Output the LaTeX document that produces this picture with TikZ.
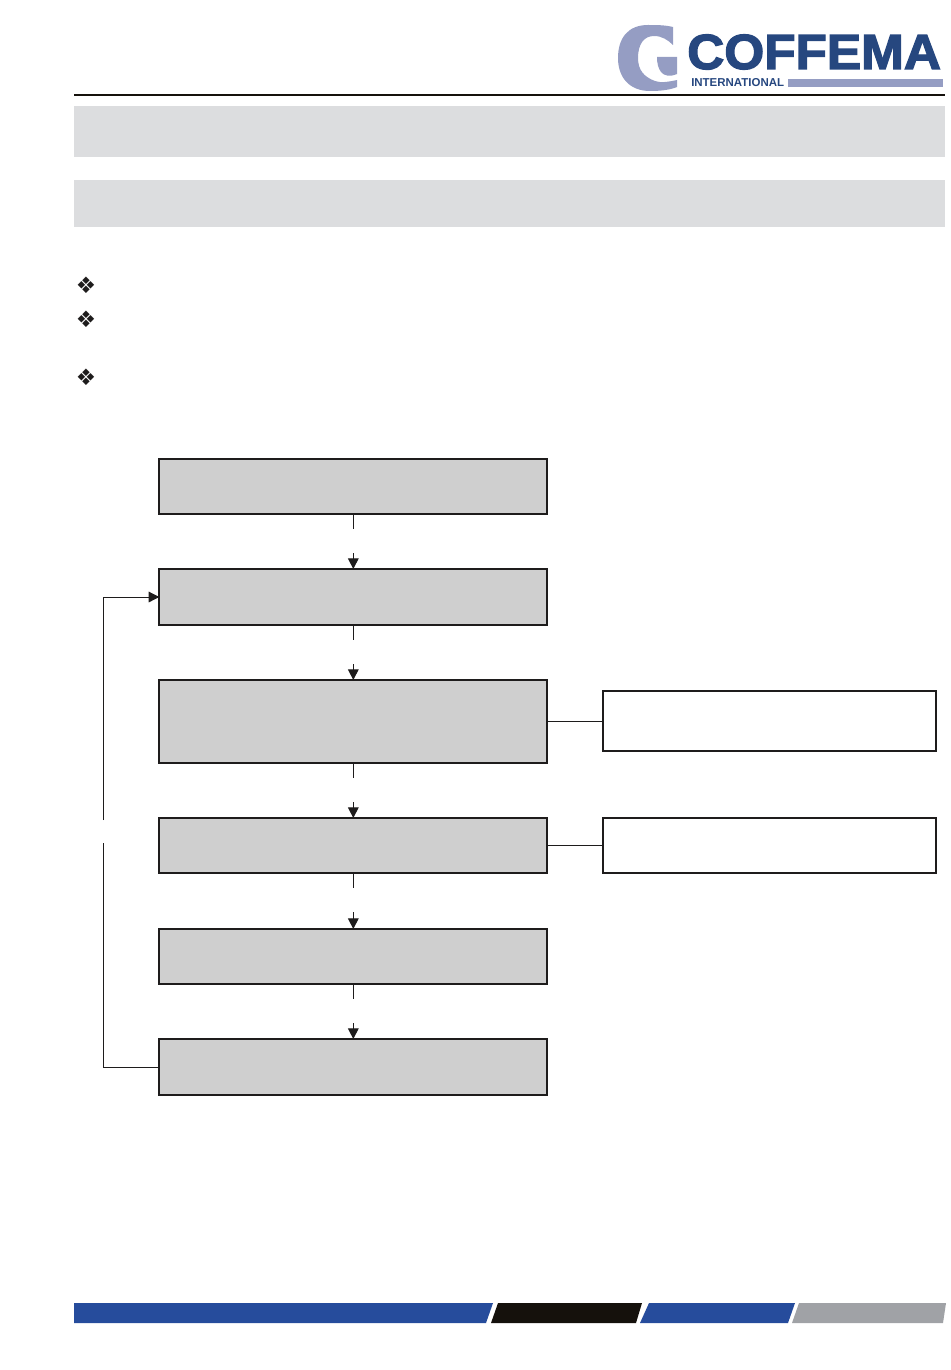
\documentclass[tikz,border=0pt]{standalone}
\usepackage{fontspec}
\setmainfont{Liberation Sans}
\newfontfamily\dejavu{DejaVu Sans}
\newfontfamily\logofont[BoldFeatures={FakeBold=2.6}]{Liberation Sans}
\usetikzlibrary{arrows.meta}
\definecolor{bandgrey}{HTML}{DCDDDF}
\definecolor{boxgrey}{HTML}{CFCFCF}
\definecolor{logoblue}{HTML}{26477F}
\definecolor{logolilac}{HTML}{959DC3}
\definecolor{barblue}{HTML}{264C9C}
\definecolor{barblack}{HTML}{15110C}
\definecolor{bargrey}{HTML}{A0A2A6}
\definecolor{inkblack}{HTML}{1E1C1C}
\tikzset{
  x=0.75pt, y=-0.75pt,
  stepbox/.style={draw=inkblack, line width=1.5pt, fill=boxgrey, minimum width=291pt, inner sep=0pt, outer sep=0pt},
  notebox/.style={draw=inkblack, line width=1.5pt, fill=white, minimum width=249.75pt, inner sep=0pt, outer sep=0pt},
  link/.style={draw=inkblack, line width=0.75pt},
  tiplink/.style={link, -{Triangle[length=8pt, width=8pt]}},
  bullet/.style={font=\dejavu\fontsize{17}{17}\selectfont, text=inkblack, inner sep=0pt}
}
\begin{document}
\begin{tikzpicture}
	\useasboundingbox (0, 0) rectangle (950, 1370);
	%%%%% HEADER %%%%%
	\fill[logolilac] (673, 27) .. controls (665, 25) and (656, 25) .. (648, 25)
		.. controls (628, 25) and (618, 38) .. (618, 58)
		.. controls (618, 78) and (630, 91) .. (650, 91)
		.. controls (660, 91) and (670, 90) .. (677, 87) -- (677, 80)
		.. controls (668, 82) and (660, 83) .. (655, 81)
		.. controls (644, 77) and (638, 70) .. (638, 58)
		.. controls (638, 44) and (644, 36) .. (654, 36)
		.. controls (662, 36) and (668, 40) .. (673, 45) -- cycle;
	\fill[logolilac] (657, 57) -- (677, 57) -- (677, 74)
		.. controls (670, 77) and (664, 76) .. (661, 72)
		.. controls (658, 68) and (657, 63) .. (657, 57) -- cycle;
	\node[font=\logofont\bfseries\fontsize{37}{37}\selectfont, text=logoblue, anchor=base west, inner sep=0pt, xscale=1.04] (logoname) at (687, 69) {COFFEMA};
	\node[font=\fontsize{8.6}{8.6}\selectfont\bfseries, text=logoblue, anchor=base west, inner sep=0pt] (logosub) at (691, 87) {INTERNATIONAL};
	\fill[logolilac] (788, 79) rectangle (943, 87);
	\draw[line width=1.5pt, color=barblack] (74, 95) -- (945, 95);
	\fill[bandgrey] (74, 106) rectangle (945, 157);
	\fill[bandgrey] (74, 180) rectangle (945, 227);
	%%%%% BULLETS %%%%%
	\node[bullet] (bulletone) at (86, 285) {❖};
	\node[bullet] (bullettwo) at (86, 319) {❖};
	\node[bullet] (bulletthree) at (86, 377) {❖};
	%%%%% STEPS %%%%%
	\node[stepbox, minimum height=41.25pt] (stepa) at (353.3, 486.5) {};
	\node[stepbox, minimum height=42pt] (stepb) at (353.3, 597) {};
	\node[stepbox, minimum height=62.25pt] (stepc) at (353.3, 721.5) {};
	\node[stepbox, minimum height=41.25pt] (stepd) at (353.3, 845.5) {};
	\node[stepbox, minimum height=41.25pt] (stepe) at (353.3, 956.5) {};
	\node[stepbox, minimum height=42pt] (stepf) at (353.3, 1067) {};
	\node[notebox, minimum height=45pt] (notea) at (769.5, 721) {};
	\node[notebox, minimum height=41.25pt] (noteb) at (769.5, 845.5) {};
	%%%%% LINKS %%%%%
	\coordinate (gapaout) at (353.3, 529);
	\coordinate (gapain) at (353.3, 553);
	\coordinate (gapbout) at (353.3, 640);
	\coordinate (gapbin) at (353.3, 664);
	\coordinate (gapcout) at (353.3, 778);
	\coordinate (gapcin) at (353.3, 802);
	\coordinate (gapdout) at (353.3, 888);
	\coordinate (gapdin) at (353.3, 912);
	\coordinate (gapeout) at (353.3, 999);
	\coordinate (gapein) at (353.3, 1023);
	\draw[link] (stepa) -- (gapaout);
	\draw[tiplink] (gapain) -- (stepb);
	\draw[link] (stepb) -- (gapbout);
	\draw[tiplink] (gapbin) -- (stepc);
	\draw[link] (stepc) -- (gapcout);
	\draw[tiplink] (gapcin) -- (stepd);
	\draw[link] (stepd) -- (gapdout);
	\draw[tiplink] (gapdin) -- (stepe);
	\draw[link] (stepe) -- (gapeout);
	\draw[tiplink] (gapein) -- (stepf);
	\draw[link] (stepc.east) -- (stepc.east -| notea.west);
	\draw[link] (stepd) -- (noteb);
	\coordinate (loopout) at (103, 843);
	\coordinate (loopin) at (103, 820);
	\draw[link] (stepf.west) -| (loopout);
	\draw[tiplink] (loopin) |- (stepb.west);
	%%%%% FOOTER %%%%%
	\fill[barblue] (74, 1303) -- (493, 1303) -- (486, 1323) -- (74, 1323) -- cycle;
	\fill[barblack] (498, 1303) -- (642, 1303) -- (636, 1323) -- (491, 1323) -- cycle;
	\fill[barblue] (649, 1303) -- (795, 1303) -- (788, 1323) -- (640, 1323) -- cycle;
	\fill[bargrey] (799, 1303) -- (946, 1303) -- (943, 1323) -- (792, 1323) -- cycle;
\end{tikzpicture}
\end{document}
